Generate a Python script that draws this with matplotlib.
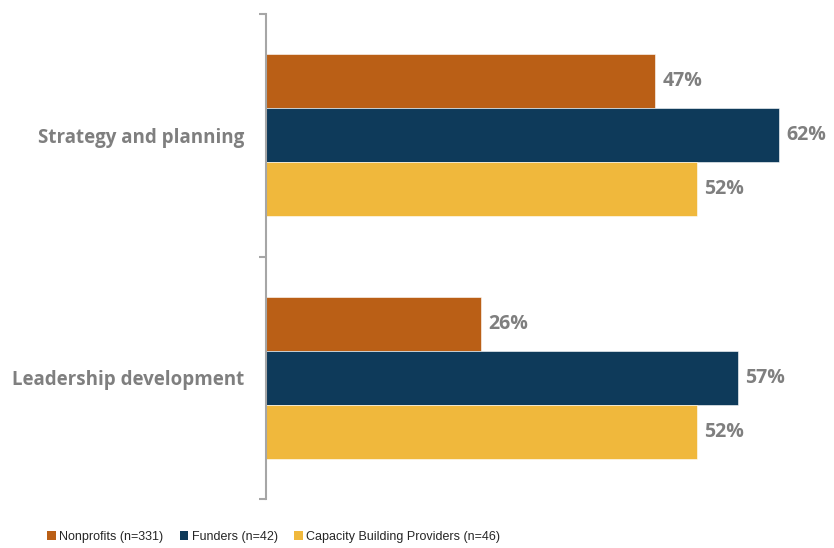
import numpy as np
import matplotlib.pyplot as plt
from matplotlib.patches import Patch

categories = ['Strategy and planning', 'Leadership development']
series = ['Nonprofits (n=331)', 'Funders (n=42)', 'Capacity Building Providers (n=46)']
values = [
    [47, 26],   # Nonprofits
    [62, 57],   # Funders
    [52, 52],   # Capacity Building Providers
]
colors = ['#BA5F16', '#0E3A5A', '#F0B83C']

fig = plt.figure(figsize=(8.34, 5.48), dpi=100)
ax = fig.add_axes([266 / 834, 1 - 499 / 548, (830 - 266) / 834, (499 - 14) / 548])

y = np.arange(len(categories))
h = 54 / 242.5
for i, (name, vals) in enumerate(zip(series, values)):
    pos = y + (i - 1) * h
    ax.barh(pos, vals, height=h, color=colors[i], edgecolor='white', linewidth=0.4)
    for p, v in zip(pos, vals):
        ax.text(v + 0.9, p, f'{v}%', va='center', ha='left', fontsize=14,
                fontweight='bold', color='#7F7F7F', family='Open Sans')

ax.set_xlim(0, (830 - 266) / 8.28)
ax.set_ylim(1.5, -0.5)

# category labels without tick marks, boundary ticks as minor ticks
ax.set_yticks(y)
ax.set_yticklabels(categories, fontsize=13.5, fontweight='bold', color='#7F7F7F',
                   family='Open Sans')
ax.tick_params(axis='y', which='major', length=0, pad=15.5)
ax.set_yticks([-0.5, 0.5, 1.5], minor=True)
ax.tick_params(axis='y', which='minor', length=5, width=1.5, color='#A6A6A6')

ax.set_xticks([])
for s in ['top', 'right', 'bottom']:
    ax.spines[s].set_visible(False)
ax.spines['left'].set_color('#A6A6A6')
ax.spines['left'].set_linewidth(1.5)

handles = [Patch(facecolor=c, label=s) for c, s in zip(colors, series)]
fig.legend(handles=handles, loc='center', bbox_to_anchor=(273.5 / 834, 1 - 537 / 548),
           ncol=3, frameon=False, handlelength=0.7, handleheight=0.7,
           handletextpad=0.25, columnspacing=1.3, labelcolor='#262626',
           prop={'family': 'Liberation Sans', 'size': 9})

fig.savefig('out.png', dpi=100)
